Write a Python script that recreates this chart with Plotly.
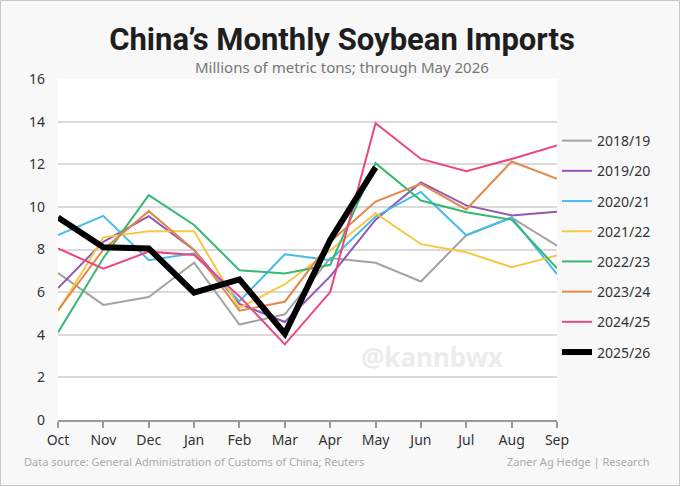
import plotly.graph_objects as go

# marketing years run Oct -> Sep
MONTHS = ["Oct", "Nov", "Dec", "Jan", "Feb", "Mar", "Apr", "May", "Jun", "Jul", "Aug", "Sep"]

my_2018_19 = [6.9, 5.4, 5.77, 7.38, 4.48, 4.96, 7.6, 7.38, 6.5, 8.67, 9.5, 8.18]
my_2019_20 = [6.19, 8.36, 9.56, 7.98, 5.45, 4.6, 6.74, 9.4, 11.15, 10.07, 9.6, 9.77]
my_2020_21 = [8.68, 9.58, 7.5, 7.82, 5.57, 7.78, 7.5, 9.55, 10.7, 8.67, 9.5, 6.85]
my_2021_22 = [5.1, 8.57, 8.86, 8.86, 5.26, 6.37, 7.95, 9.7, 8.25, 7.87, 7.17, 7.72]
my_2022_23 = [4.11, 7.6, 10.55, 9.15, 7.03, 6.87, 7.28, 12.05, 10.3, 9.75, 9.4, 7.12]
my_2023_24 = [5.15, 8.0, 9.8, 7.98, 5.13, 5.55, 8.35, 10.25, 11.08, 9.88, 12.13, 11.32]
my_2024_25 = [8.05, 7.1, 7.9, 7.74, 5.8, 3.55, 6.0, 13.92, 12.25, 11.67, 12.25, 12.88]
my_2025_26 = [9.5, 8.1, 8.05, 5.98, 6.6, 4.05, 8.45, 11.85]

SEASONS = [
    ("2018/19", my_2018_19, "#a3a3a3"),
    ("2019/20", my_2019_20, "#9257b3"),
    ("2020/21", my_2020_21, "#45bde8"),
    ("2021/22", my_2021_22, "#f7c844"),
    ("2022/23", my_2022_23, "#35b873"),
    ("2023/24", my_2023_24, "#e0894a"),
    ("2024/25", my_2024_25, "#ec4682"),
]

FONT = "Noto Sans"
BG = "#f8f8f8"
fig = go.Figure()

for i, (name, vals, col) in enumerate(SEASONS):
    fig.add_trace(go.Scatter(x=MONTHS[:len(vals)], y=vals, mode="lines", name=name,
                             legendgroup=str(i),
                             line=dict(color=col, width=2)))

fig.add_trace(go.Scatter(x=MONTHS[:len(my_2025_26)], y=my_2025_26, mode="lines", name="2025/26",
                         legendgroup="cur",
                         line=dict(color="black", width=6)))

fig.update_layout(
    width=680, height=486,
    margin=dict(l=58, r=123, t=79, b=66),
    paper_bgcolor=BG,
    plot_bgcolor="white",
    font=dict(family=FONT, color="#333333", size=14),
    showlegend=True,
    legend=dict(x=1.0, xanchor="left", y=0.865, yanchor="top",
                bgcolor="rgba(0,0,0,0)", tracegroupgap=9,
                font=dict(size=14, color="#333333")),
    title=dict(text="<b>China’s Monthly Soybean Imports</b>",
               x=0.503, xanchor="center", y=0.919, yanchor="middle",
               font=dict(family="Roboto", size=31, color="#1e1e1e")),
)

fig.update_xaxes(showgrid=False, showline=True, linecolor="#9a9a9a", linewidth=1.5,
                 ticks="outside", ticklen=6, tickcolor="#9a9a9a", tickwidth=1.5,
                 range=[0, 11], tickfont=dict(size=14, color="#333333"))
fig.update_yaxes(range=[0, 16], dtick=2, showgrid=True, gridcolor="#dadada", gridwidth=1.5,
                 zeroline=False, showline=False, ticks="", ticklabelstandoff=12,
                 tickfont=dict(size=14, color="#333333"))

fig.add_annotation(text="Millions of metric tons; through May 2026", xref="paper", yref="paper",
                   x=0.57, y=1.036, xanchor="center", yanchor="middle", showarrow=False,
                   font=dict(size=15, color="#777777"))
fig.add_annotation(text="<b>@kannbwx</b>", xref="paper", yref="paper", x=0.75, y=0.185,
                   xanchor="center", yanchor="middle", showarrow=False,
                   font=dict(size=26, color="#ececec", family="Noto Sans"))
fig.add_annotation(text="Data source: General Administration of Customs of China; Reuters",
                   xref="paper", yref="paper", x=-36 / 499, y=-0.123, xanchor="left", yanchor="middle",
                   showarrow=False, font=dict(size=11, color="#aaaaaa"))
fig.add_annotation(text="Zaner Ag Hedge | Research", xref="paper", yref="paper", x=593 / 499, y=-0.123,
                   xanchor="right", yanchor="middle", showarrow=False,
                   font=dict(size=11, color="#aaaaaa"))

# thin frame round the whole picture
fig.add_shape(type="rect", xref="paper", yref="paper",
              x0=-57.5 / 499, x1=621.5 / 499, y0=-65.5 / 341, y1=419.5 / 341,
              line=dict(color="#c8c8c8", width=1), fillcolor="rgba(0,0,0,0)", layer="below")

# page margin would push the chart 8px down/right
fig.write_html("out.html", config={"displayModeBar": False},
               post_script="document.body.style.margin='0';document.body.style.background='%s';" % BG)
